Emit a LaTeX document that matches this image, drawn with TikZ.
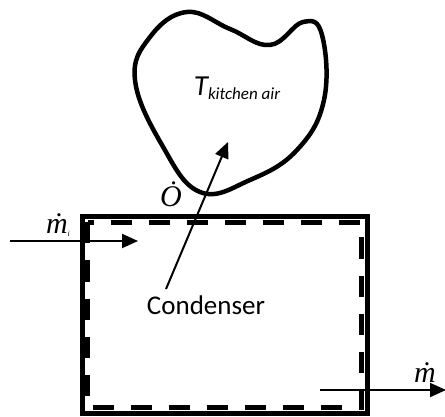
\documentclass[tikz,border=0pt]{standalone}
\usepackage{fontspec}
\setmainfont{Liberation Serif}
\newfontfamily\calib{Carlito}
\usetikzlibrary{arrows.meta}
\begin{document}
\begin{tikzpicture}[x=1pt,y=-1pt,
  outerbox/.style={line width=5pt},
  cvbox/.style={line width=5pt,dash pattern=on 21pt off 17pt},
  flow/.style={line width=2pt,-{Triangle[length=16pt,width=14pt]}},
  blob/.style={line width=4.5pt,line join=round},
  serlabel/.style={font=\fontsize{30}{32}\selectfont\itshape,inner sep=0pt},
  sanslabel/.style={font=\calib\fontsize{27}{30}\selectfont,inner sep=0pt}]
\useasboundingbox (0,0) rectangle (445,417);
% surroundings blob
\draw[blob] plot[smooth cycle,tension=0.7] coordinates {
  (187,12) (230,29) (270,45) (303,22) (322,35) (324,100) (297,150)
  (250,180) (200,192) (162,145) (135,80) (150,37)};
\node[inner sep=0pt] (air) at (237,88)
  {\calib\itshape\fontsize{29}{30}\selectfont T\raisebox{-4pt}{\fontsize{17}{20}\selectfont kitchen air}};
% condenser boxes
\draw[outerbox] (82,217) rectangle (367,413);
\draw[cvbox] (87.5,222.5) rectangle (361.5,407.5);
\node[sanslabel] (cond) at (206,305) {Condenser};
\coordinate (qs) at (166,289);
\coordinate (qe) at (228,142);
\draw[flow] (qs) -- (qe);
\node[serlabel] (q) at (171,194) {\.{O}};
% inlet
\coordinate (i1) at (10,241);
\coordinate (i2) at (138,241);
\draw[flow] (i1) -- (i2);
\node[serlabel] (mi) at (58,225) {\.{m}\raisebox{-3pt}{\fontsize{8}{8}\selectfont i}};
% outlet
\coordinate (e1) at (320,390);
\coordinate (e2) at (446,390);
\draw[flow] (e1) -- (e2);
\node[serlabel] (me) at (425,373) {\.{m}};
\end{tikzpicture}
\end{document}
